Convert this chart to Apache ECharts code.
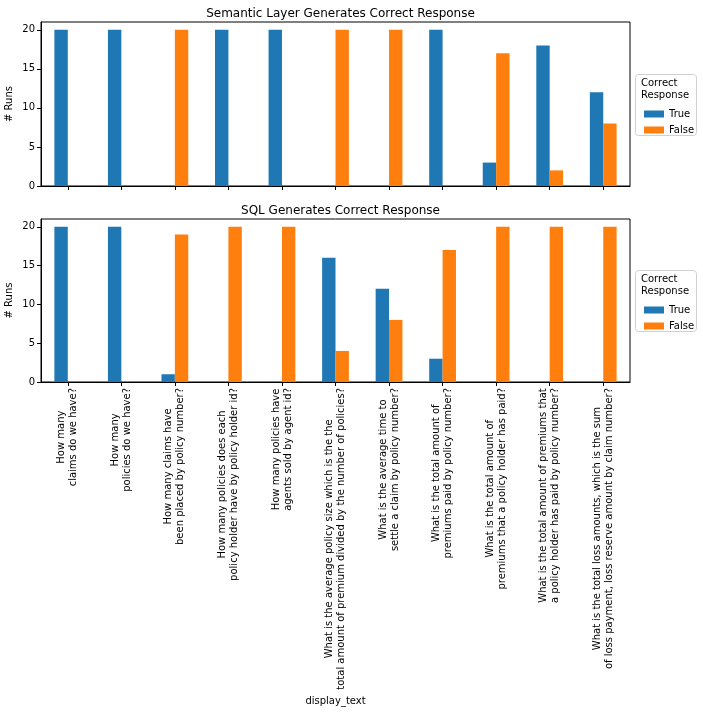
<!DOCTYPE html>
<html>
<head>
<meta charset="utf-8">
<script src="https://cdn.jsdelivr.net/npm/echarts@6/dist/echarts.min.js"></script>
<style>html,body{margin:0;padding:0;background:#fff}#c{width:703px;height:712px}</style>
</head>
<body>
<div id="c"></div>
<script>
var categories = [
  "How many\nclaims do we have?",
  "How many\npolicies do we have?",
  "How many claims have\nbeen placed by policy number?",
  "How many policies does each\npolicy holder have by policy holder id?",
  "How many policies have\nagents sold by agent id?",
  "What is the average policy size which is the the\ntotal amount of premium divided by the number of policies?",
  "What is the average time to\nsettle a claim by policy number?",
  "What is the total amount of\npremiums paid by policy number?",
  "What is the total amount of\npremiums that a policy holder has paid?",
  "What is the total amount of premiums that\na policy holder has paid by policy number?",
  "What is the total loss amounts, which is the sum\nof loss payment, loss reserve amount by claim number?"
];
var semanticTrue  = [20, 20, 0, 20, 20, 0, 0, 20, 3, 18, 12];
var semanticFalse = [0, 0, 20, 0, 0, 20, 20, 0, 17, 2, 8];
var sqlTrue  = [20, 20, 1, 0, 0, 16, 12, 3, 0, 0, 0];
var sqlFalse = [0, 0, 19, 20, 20, 4, 8, 17, 20, 20, 20];
var yTicks = [0, 5, 10, 15, 20];
var titles = ["Semantic Layer Generates Correct Response", "SQL Generates Correct Response"];
var legendTitle = "Correct\nResponse";

var FONT = "DejaVu Sans";
var BLUE = "#1f77b4", ORANGE = "#ff7f0e";
var chart = echarts.init(document.getElementById('c'), null, {renderer: 'canvas'});

function xAxis(gi, showLabels) {
  return {
    type: 'category', gridIndex: gi, data: categories,
    axisLine: {show: true, lineStyle: {color: '#000', width: 1}},
    axisTick: {show: true, alignWithLabel: true, length: 4, interval: 0, lineStyle: {color: '#000', width: 1}},
    axisLabel: showLabels ? {
      show: true, interval: 0, rotate: 90, margin: 6,
      fontFamily: FONT, fontSize: 10, color: '#000',
      formatter: function (v) { return v.split('\n').map(function (l) { return '{c|' + l + '}'; }).join('\n'); },
      rich: {c: {align: 'center', fontFamily: FONT, fontSize: 10, color: '#000', lineHeight: 12}}
    } : {show: false, interval: 0},
    name: showLabels ? 'display_text' : '',
    nameLocation: 'middle', nameGap: 314, nameMoveOverlap: false,
    nameTextStyle: {fontFamily: FONT, fontSize: 10, color: '#000'},
    splitLine: {show: false}
  };
}
function yAxis(gi) {
  return {
    type: 'value', gridIndex: gi, min: 0, max: 21,
    name: '# Runs', nameLocation: 'middle', nameGap: 27, nameMoveOverlap: false,
    nameTextStyle: {fontFamily: FONT, fontSize: 10, color: '#000'},
    axisLine: {show: true, lineStyle: {color: '#000', width: 1}},
    axisTick: {show: true, length: 4, lineStyle: {color: '#000', width: 1}, customValues: yTicks},
    axisLabel: {fontFamily: FONT, fontSize: 10, color: '#000', margin: 6, customValues: yTicks},
    splitLine: {show: false}
  };
}
function bar(name, data, gi, color) {
  return {
    type: 'bar', name: name, data: data, xAxisIndex: gi, yAxisIndex: gi,
    barWidth: '25%', barGap: '0%', itemStyle: {color: color}, animation: false
  };
}
function legendBlock(top) {
  return [
    {type: 'rect', left: 635, top: top, shape: {width: 61, height: 61, r: 3},
     style: {fill: '#fff', stroke: '#d0d0d0', lineWidth: 1}, z: 5},
    {type: 'text', left: 641, top: top + 3, z: 6,
     style: {text: legendTitle, font: '10px "DejaVu Sans"', fill: '#000', lineHeight: 12}}
  ];
}

chart.setOption({
  animation: false,
  title: [
    {text: titles[0], left: 335.5, top: 3, textAlign: 'center', textStyle: {fontFamily: FONT, fontSize: 12, fontWeight: 'normal', color: '#000'}},
    {text: titles[1], left: 335.5, top: 200, textAlign: 'center', textStyle: {fontFamily: FONT, fontSize: 12, fontWeight: 'normal', color: '#000'}}
  ],
  grid: [
    {left: 41, width: 589, top: 22, height: 164, show: true, borderColor: '#000', borderWidth: 1, backgroundColor: 'transparent', containLabel: false, outerBoundsMode: 'none'},
    {left: 41, width: 589, top: 219, height: 163, show: true, borderColor: '#000', borderWidth: 1, backgroundColor: 'transparent', containLabel: false, outerBoundsMode: 'none'}
  ],
  xAxis: [xAxis(0, false), xAxis(1, true)],
  yAxis: [yAxis(0), yAxis(1)],
  legend: [
    {orient: 'vertical', left: 639, top: 104, itemWidth: 20, itemHeight: 7, itemGap: 6, z: 10,
     data: ['True', 'False'], textStyle: {fontFamily: FONT, fontSize: 10, color: '#000'}, icon: 'rect', selectedMode: false},
    {orient: 'vertical', left: 639, top: 300, itemWidth: 20, itemHeight: 7, itemGap: 6, z: 10,
     data: ['True', 'False'], textStyle: {fontFamily: FONT, fontSize: 10, color: '#000'}, icon: 'rect', selectedMode: false}
  ],
  graphic: legendBlock(74).concat(legendBlock(270)),
  series: [
    bar('True', semanticTrue, 0, BLUE),
    bar('False', semanticFalse, 0, ORANGE),
    bar('True', sqlTrue, 1, BLUE),
    bar('False', sqlFalse, 1, ORANGE)
  ]
});
</script>
</body>
</html>
